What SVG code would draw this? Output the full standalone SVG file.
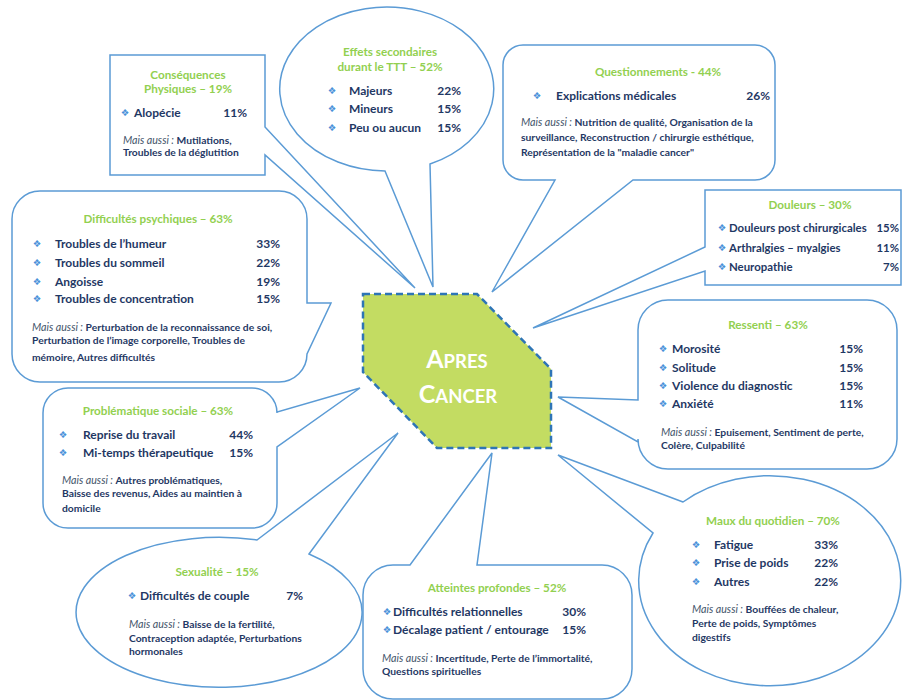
<svg xmlns="http://www.w3.org/2000/svg" width="904" height="700" viewBox="0 0 904 700">
<style>
.c{fill:#fff;stroke:#5b9bd5;stroke-width:1.5;stroke-linejoin:miter}
.t{font-family:Lato,'Liberation Sans',sans-serif;font-weight:bold;font-size:11.7px;fill:#92d050;text-anchor:middle}
.i{font-family:Lato,'Liberation Sans',sans-serif;font-weight:bold;font-size:12px;fill:#1f3864}
.v{font-family:Lato,'Liberation Sans',sans-serif;font-weight:bold;font-size:12px;fill:#1f3864;text-anchor:end}
.b{font-family:'DejaVu Sans',sans-serif;font-size:9.5px;fill:#4a90d9;text-anchor:middle}
.m{font-family:Lato,'Liberation Sans',sans-serif;font-weight:bold;font-size:10.3px;fill:#1f3864}
.it{font-style:italic;font-weight:normal;fill:#44546a;font-size:10.7px}
.ctr{fill:#c3dc62;stroke:#2e75b6;stroke-width:2.5;stroke-dasharray:7 4}
.ct{font-family:Lato,'Liberation Sans',sans-serif;font-weight:bold;fill:#fff;text-anchor:middle}
.sm{font-size:11.4px}
</style>
<rect width="904" height="700" fill="#fff"/>

<g id="consequences">
<path class="c" d="M110,55 H265 V127 L415,288 L265,155 V175 H110 Z"/>
<text class="t" x="188" y="79">Conséquences</text>
<text class="t" x="188" y="93">Physiques – 19%</text>
<text class="b" x="125" y="116">❖</text>
<text class="i" x="134" y="117">Alopécie</text>
<text class="v" x="247" y="117">11%</text>
<text class="m" x="123" y="144"><tspan class="it">Mais aussi : </tspan>Mutilations,</text>
<text class="m" x="123" y="156">Troubles de la déglutition</text>
</g>

<g id="effets">
<path class="c" d="M385,171 L433,287 L430,164 A107,82 0 1 0 385,171 Z"/>
<text class="t" x="390" y="56">Effets secondaires</text>
<text class="t" x="390" y="71">durant le TTT – 52%</text>
<text class="b" x="332" y="94">❖</text>
<text class="i" x="349" y="95">Majeurs</text>
<text class="v" x="461" y="95">22%</text>
<text class="b" x="332" y="112">❖</text>
<text class="i" x="349" y="113">Mineurs</text>
<text class="v" x="461" y="113">15%</text>
<text class="b" x="332" y="131">❖</text>
<text class="i" x="349" y="132">Peu ou aucun</text>
<text class="v" x="461" y="132">15%</text>
</g>

<g id="questionnements">
<path class="c" d="M523,45 H755 A20,20 0 0 1 775,65 V160 A20,20 0 0 1 755,180 H633 L492,292 L555,180 H523 A20,20 0 0 1 503,160 V65 A20,20 0 0 1 523,45 Z"/>
<text class="t" x="658" y="76">Questionnements - 44%</text>
<text class="b" x="537" y="99">❖</text>
<text class="i" x="556" y="100">Explications médicales</text>
<text class="v" x="770" y="100">26%</text>
<text class="m" x="521" y="126"><tspan class="it">Mais aussi : </tspan>Nutrition de qualité, Organisation de la</text>
<text class="m" x="521" y="141">surveillance, Reconstruction / chirurgie esthétique,</text>
<text class="m" x="521" y="156">Représentation de la "maladie cancer"</text>
</g>

<g id="difficultes">
<path class="c" d="M40,191 H279 A28,28 0 0 1 307,219 V303 L331,303 L307,354 A28,28 0 0 1 279,382 H40 A28,28 0 0 1 12,354 V219 A28,28 0 0 1 40,191 Z"/>
<text class="t" x="158" y="223">Difficultés psychiques – 63%</text>
<text class="b" x="37" y="247">❖</text>
<text class="i" x="55" y="248">Troubles de l’humeur</text>
<text class="v" x="280" y="248">33%</text>
<text class="b" x="37" y="266">❖</text>
<text class="i" x="55" y="267">Troubles du sommeil</text>
<text class="v" x="280" y="267">22%</text>
<text class="b" x="37" y="285">❖</text>
<text class="i" x="55" y="286">Angoisse</text>
<text class="v" x="280" y="286">19%</text>
<text class="b" x="37" y="302">❖</text>
<text class="i" x="55" y="303">Troubles de concentration</text>
<text class="v" x="280" y="303">15%</text>
<text class="m" x="32" y="331"><tspan class="it">Mais aussi : </tspan>Perturbation de la reconnaissance de soi,</text>
<text class="m" x="32" y="344">Perturbation de l’image corporelle, Troubles de</text>
<text class="m" x="32" y="361">mémoire, Autres difficultés</text>
</g>

<g id="douleurs">
<path class="c" d="M705,190 H901 V285 H705 V271 L533,328 L705,247 Z"/>
<text class="t" x="810" y="209">Douleurs – 30%</text>
<text class="b" x="722" y="231">❖</text>
<text class="i sm" x="729" y="232">Douleurs post chirurgicales</text>
<text class="v sm" x="899" y="232">15%</text>
<text class="b" x="722" y="251">❖</text>
<text class="i sm" x="729" y="252">Arthralgies – myalgies</text>
<text class="v sm" x="899" y="252">11%</text>
<text class="b" x="722" y="270">❖</text>
<text class="i sm" x="729" y="271">Neuropathie</text>
<text class="v sm" x="899" y="271">7%</text>
</g>

<g id="ressenti">
<path class="c" d="M668,300 H867 A30,30 0 0 1 897,330 V439 A30,30 0 0 1 867,469 H668 A30,30 0 0 1 638,439 V442 L558,397 L638,400 V330 A30,30 0 0 1 668,300 Z"/>
<text class="t" x="768" y="329">Ressenti – 63%</text>
<text class="b" x="663" y="352">❖</text>
<text class="i" x="672" y="353">Morosité</text>
<text class="v" x="863" y="353">15%</text>
<text class="b" x="663" y="371">❖</text>
<text class="i" x="672" y="372">Solitude</text>
<text class="v" x="863" y="372">15%</text>
<text class="b" x="663" y="389">❖</text>
<text class="i" x="672" y="390">Violence du diagnostic</text>
<text class="v" x="863" y="390">15%</text>
<text class="b" x="663" y="407">❖</text>
<text class="i" x="672" y="408">Anxiété</text>
<text class="v" x="863" y="408">11%</text>
<text class="m" x="661" y="436"><tspan class="it">Mais aussi : </tspan>Epuisement, Sentiment de perte,</text>
<text class="m" x="661" y="449">Colère, Culpabilité</text>
</g>

<g id="sociale">
<path class="c" d="M68,388 H252 A25,25 0 0 1 277,413 V412 L360,388 L277,447 V503 A25,25 0 0 1 252,528 H68 A25,25 0 0 1 43,503 V413 A25,25 0 0 1 68,388 Z"/>
<text class="t" x="158" y="415">Problématique sociale – 63%</text>
<text class="b" x="63" y="438">❖</text>
<text class="i" x="83" y="439">Reprise du travail</text>
<text class="v" x="253" y="439">44%</text>
<text class="b" x="63" y="456">❖</text>
<text class="i" x="83" y="457">Mi-temps thérapeutique</text>
<text class="v" x="253" y="457">15%</text>
<text class="m" x="62" y="484"><tspan class="it">Mais aussi : </tspan>Autres problématiques,</text>
<text class="m" x="62" y="497">Baisse des revenus, Aides au maintien à</text>
<text class="m" x="62" y="512">domicile</text>
</g>

<g id="maux">
<path class="c" d="M683,502 L558,455 L653,533 A131,105 0 1 0 683,502 Z"/>
<text class="t" x="773" y="525">Maux du quotidien – 70%</text>
<text class="b" x="696" y="548">❖</text>
<text class="i" x="714" y="549">Fatigue</text>
<text class="v" x="838" y="549">33%</text>
<text class="b" x="696" y="566">❖</text>
<text class="i" x="714" y="567">Prise de poids</text>
<text class="v" x="838" y="567">22%</text>
<text class="b" x="696" y="585">❖</text>
<text class="i" x="714" y="586">Autres</text>
<text class="v" x="838" y="586">22%</text>
<text class="m" x="692" y="613"><tspan class="it">Mais aussi : </tspan>Bouffées de chaleur,</text>
<text class="m" x="692" y="627">Perte de poids, Symptômes</text>
<text class="m" x="692" y="641">digestifs</text>
</g>

<g id="sexualite">
<path class="c" d="M257,540 L398,433 L309,554 A143,75 0 1 1 257,540 Z"/>
<text class="t" x="217" y="576">Sexualité – 15%</text>
<text class="b" x="132" y="599">❖</text>
<text class="i" x="140" y="600">Difficultés de couple</text>
<text class="v" x="303" y="600">7%</text>
<text class="m" x="129" y="628"><tspan class="it">Mais aussi : </tspan>Baisse de la fertilité,</text>
<text class="m" x="129" y="642">Contraception adaptée, Perturbations</text>
<text class="m" x="129" y="655">hormonales</text>
</g>

<g id="atteintes">
<path class="c" d="M393,565 H410 L492,453 L477,565 H602 A30,30 0 0 1 632,595 V669 A30,30 0 0 1 602,699 H393 A30,30 0 0 1 363,669 V595 A30,30 0 0 1 393,565 Z"/>
<text class="t" x="497" y="592">Atteintes profondes – 52%</text>
<text class="b" x="387" y="615">❖</text>
<text class="i" x="393" y="616">Difficultés relationnelles</text>
<text class="v" x="586" y="616">30%</text>
<text class="b" x="387" y="633">❖</text>
<text class="i" x="393" y="634">Décalage patient / entourage</text>
<text class="v" x="586" y="634">15%</text>
<text class="m" x="382" y="662"><tspan class="it">Mais aussi : </tspan>Incertitude, Perte de l’immortalité,</text>
<text class="m" x="382" y="675">Questions spirituelles</text>
</g>

<g id="center">
<polygon class="ctr" points="363,294 477,294 551,369 551,448 437,448 363,372"/>
<text class="ct" x="457" y="368"><tspan font-size="25">A</tspan><tspan font-size="18.5">PRES</tspan></text>
<text class="ct" x="458" y="403"><tspan font-size="25">C</tspan><tspan font-size="18.5">ANCER</tspan></text>
</g>
</svg>
